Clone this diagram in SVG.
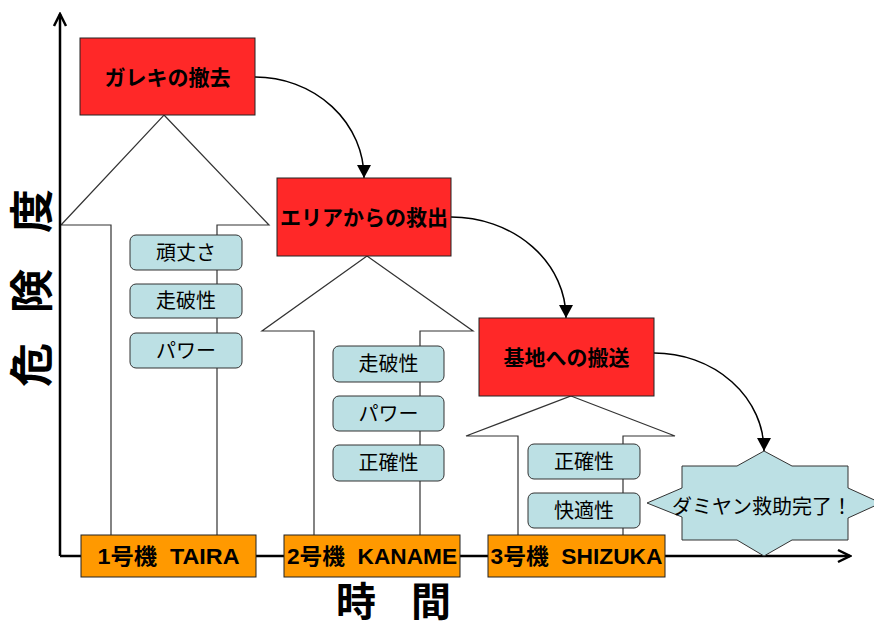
<svg xmlns="http://www.w3.org/2000/svg" width="874" height="625" viewBox="0 0 874 625">
<style>
text{font-family:"Liberation Sans","Noto Sans CJK JP",sans-serif;fill:#000}
.red{fill:#FF2828;stroke:#222;stroke-width:1}
.org{fill:#FF9900;stroke:#222;stroke-width:1}
.blue{fill:#BCE0E4;stroke:#333;stroke-width:1}
.arr{fill:#fff;stroke:#333;stroke-width:1.2}
.rt{font-size:21px;font-weight:bold;text-anchor:middle}
.ot{font-size:22px;font-weight:bold;text-anchor:middle;white-space:pre}
.bt{font-size:20px;text-anchor:middle}
.axis{fill:none;stroke:#000;stroke-width:2.5}
.conn{fill:none;stroke:#000;stroke-width:1.5}
</style>
<defs>
<marker id="ah" markerUnits="userSpaceOnUse" markerWidth="14" markerHeight="14" viewBox="0 0 14 14" refX="13" refY="7" orient="auto">
<path d="M0,0 L13,7 L0,14 Z" fill="#000"/>
</marker>
<marker id="ax" markerUnits="userSpaceOnUse" markerWidth="16" markerHeight="16" viewBox="0 0 16 16" refX="14" refY="8" orient="auto">
<path d="M2,2 L14,8 L2,14" fill="none" stroke="#000" stroke-width="2.5"/>
</marker>
</defs>

<g id="bigarrow1"><polygon class="arr" points="164,115 269,225 217,225 217,556 111,556 111,225 61,225"/></g>
<g id="bigarrow2"><polygon class="arr" points="367,256 473,331 420,331 420,556 314,556 314,331 262,331"/></g>
<g id="bigarrow3"><polygon class="arr" points="571,396 675,436 623,436 623,556 518,556 518,436 466,436"/></g>

<g id="axes">
<path class="axis" d="M60,556 L60,14" marker-end="url(#ax)"/>
<path class="axis" d="M60,556 L850,556" marker-end="url(#ax)"/>
</g>

<g id="star">
<polygon fill="#BCE0E4" stroke="#333" stroke-width="1" points="764,451 737,466 682,466 682,488 647,503 682,517 682,540 737,540 764,556 792,540 848,540 848,518 881,503 848,488 848,466 792,466"/>
<text class="bt" x="762" y="514">ダミヤン救助完了！</text>
</g>

<g id="connectors">
<path class="conn" d="M255,77 A109,101 0 0 1 364,178" marker-end="url(#ah)"/>
<path class="conn" d="M451,217 A115,101 0 0 1 566,318" marker-end="url(#ah)"/>
<path class="conn" d="M654,353 A110,98 0 0 1 764,451" marker-end="url(#ah)"/>
</g>

<g id="task1"><rect class="red" x="80" y="38" width="175" height="77"/><text class="rt" x="167.5" y="85">ガレキの撤去</text></g>
<g id="task2"><rect class="red" x="277" y="178" width="174" height="78"/><text class="rt" x="364" y="225">エリアからの救出</text></g>
<g id="task3"><rect class="red" x="479" y="318" width="175" height="78"/><text class="rt" x="566.5" y="365">基地への搬送</text></g>

<g id="f1a"><rect class="blue" x="130" y="235" width="112" height="35" rx="6"/><text class="bt" x="186" y="259.5">頑丈さ</text></g>
<g id="f1b"><rect class="blue" x="130" y="284" width="112" height="34" rx="6"/><text class="bt" x="186" y="308">走破性</text></g>
<g id="f1c"><rect class="blue" x="130" y="333" width="112" height="35" rx="6"/><text class="bt" x="186" y="357.5">パワー</text></g>

<g id="f2a"><rect class="blue" x="333" y="346" width="111" height="36" rx="6"/><text class="bt" x="388.5" y="371">走破性</text></g>
<g id="f2b"><rect class="blue" x="333" y="396" width="111" height="35" rx="6"/><text class="bt" x="388.5" y="420.5">パワー</text></g>
<g id="f2c"><rect class="blue" x="333" y="445" width="111" height="36" rx="6"/><text class="bt" x="388.5" y="470">正確性</text></g>

<g id="f3a"><rect class="blue" x="528" y="444" width="112" height="35" rx="6"/><text class="bt" x="584" y="468.5">正確性</text></g>
<g id="f3b"><rect class="blue" x="528" y="493" width="112" height="35" rx="6"/><text class="bt" x="584" y="517.5">快適性</text></g>

<g id="unit1"><rect class="org" x="81" y="535" width="175" height="42"/><text class="ot" x="168.5" y="564" textLength="142" lengthAdjust="spacingAndGlyphs">1号機  TAIRA</text></g>
<g id="unit2"><rect class="org" x="284" y="535" width="176" height="42"/><text class="ot" x="372" y="564" textLength="170" lengthAdjust="spacingAndGlyphs">2号機  KANAME</text></g>
<g id="unit3"><rect class="org" x="488" y="535" width="177" height="42"/><text class="ot" x="576.5" y="564" textLength="172" lengthAdjust="spacingAndGlyphs">3号機  SHIZUKA</text></g>

<g id="ylabel"><text transform="translate(48,292) rotate(-90)" x="-95 -51 -21 19 59" y="0" font-size="44" font-weight="bold">危　険　度</text></g>
<g id="xlabel"><text x="336 376 411" y="616" font-size="40" font-weight="bold">時　間</text></g>
</svg>
